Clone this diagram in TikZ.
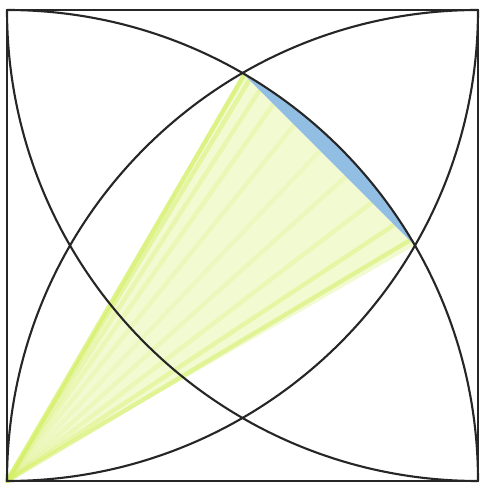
\documentclass[tikz,border=0pt]{standalone}
\usepackage{tikz}
\usetikzlibrary{calc}
\usepackage{xcolor}
\definecolor{pencilgreen}{RGB}{212,240,100}
\definecolor{pencilblue}{RGB}{128,178,222}
\tikzset{
    edge/.style={line width=1.2pt, black!85},
    arcline/.style={line width=1.2pt, black!85},
    greenfill/.style={fill=pencilgreen!30},
    streak/.style={pencilgreen, line width=2.5pt, line cap=round},
    bluefill/.style={fill=pencilblue!85},
}

\begin{document}
\begin{tikzpicture}
    \def\s{9.42}
    \useasboundingbox (-0.14,-0.06) rectangle (9.48,9.62);

    % corners and crossing points
    \coordinate (A) at (0,0);
    \coordinate (B) at (\s,0);
    \coordinate (C) at (\s,\s);
    \coordinate (D) at (0,\s);
    \coordinate (P) at (60:\s);
    \coordinate (Q) at (30:\s);

    % green triangle
    \fill[greenfill] (A) -- (P) -- (Q) -- cycle;
    \foreach \t/\o in {0.01/0.7, 0.04/0.45, 0.1/0.3, 0.18/0.25, 0.3/0.2, 0.45/0.15, 0.6/0.2, 0.75/0.25, 0.88/0.4, 0.97/0.55} {
        \draw[streak, opacity=\o] (A) -- ($(P)!\t!(Q)$);
    }

    % blue segment
    \fill[bluefill] (P) arc (60:30:\s) -- cycle;

    % square and quarter arcs
    \draw[edge] (A) rectangle (C);
    \draw[arcline] (B) arc (0:90:\s);
    \draw[arcline] (A) arc (180:90:\s);
    \draw[arcline] (B) arc (270:180:\s);
    \draw[arcline] (A) arc (-90:0:\s);
\end{tikzpicture}
\end{document}
